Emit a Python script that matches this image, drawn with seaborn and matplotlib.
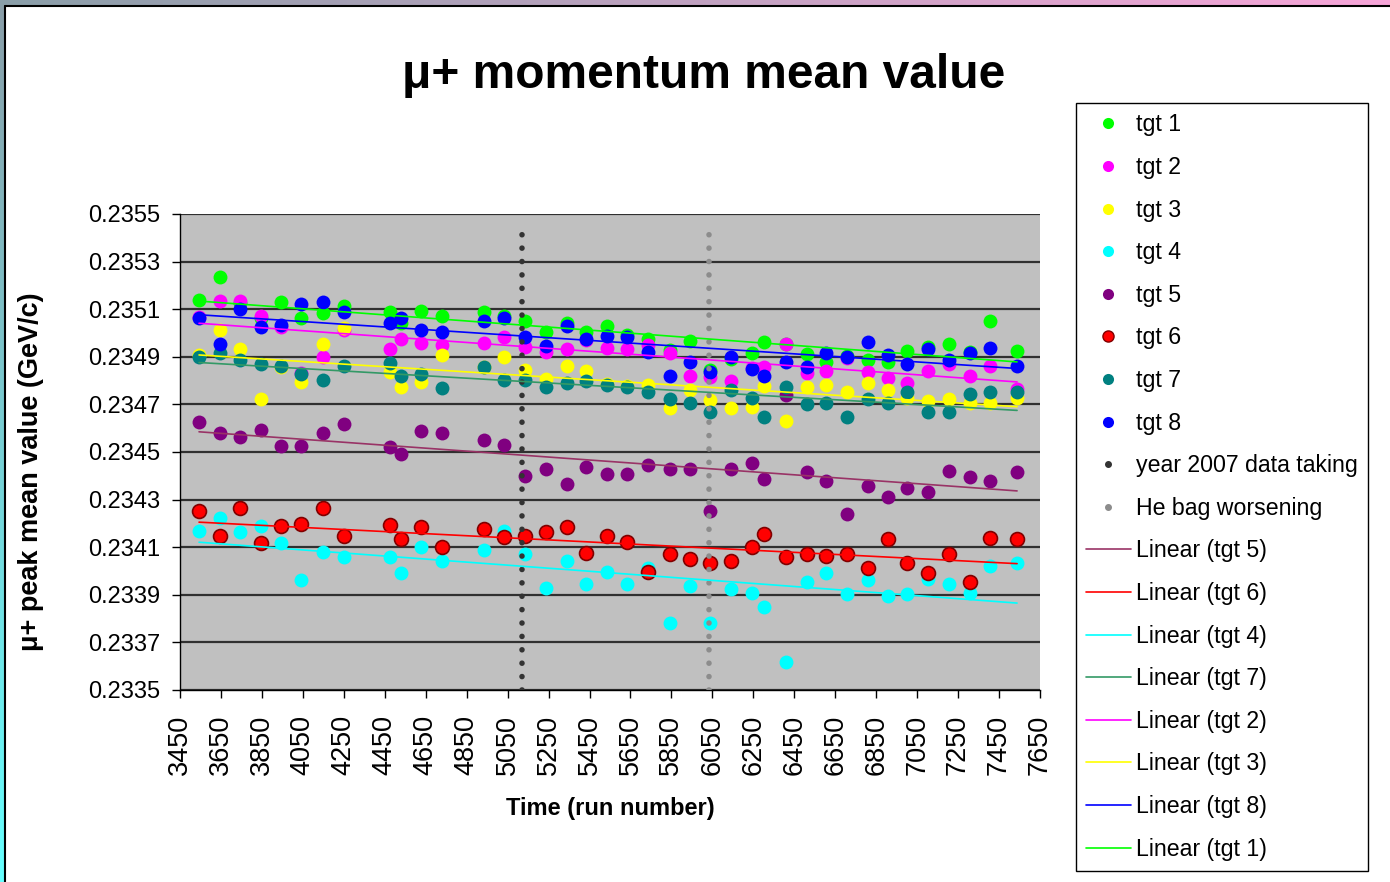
import numpy as np
import pandas as pd
import matplotlib
matplotlib.use('Agg')
import matplotlib.pyplot as plt
from matplotlib.lines import Line2D
import seaborn as sns

# ---- data (run number vs mu+ peak mean momentum, GeV/c) ----
runs = [3543, 3645, 3743, 3846, 3943, 4041, 4148, 4250, 4476, 4529, 4627, 4730, 4935,
        5032, 5135, 5238, 5340, 5433, 5535, 5633, 5736, 5843, 5941, 6039, 6141, 6244,
        6302, 6410, 6512, 6605, 6708, 6810, 6908, 7001, 7103, 7206, 7308, 7406, 7538]

tgt1 = [0.235139, 0.235237, 0.235126, 0.235063, 0.235132, 0.235064, 0.235085, 0.235113, 0.235090, 0.235043,
        0.235094, 0.235071, 0.235087, 0.235073, 0.235052, 0.235005, 0.235043, 0.235005, 0.235029, 0.234992,
        0.234974, 0.234929, 0.234968, 0.234845, 0.234891, 0.234915, 0.234961, 0.234954, 0.234911, 0.234879,
        0.234903, 0.234887, 0.234879, 0.234924, 0.234942, 0.234953, 0.234920, 0.235050, 0.234924]
tgt2 = [0.235067, 0.235134, 0.235136, 0.235073, 0.235026, 0.234833, 0.234900, 0.235013, 0.234932, 0.234975,
        0.234959, 0.234950, 0.234959, 0.234982, 0.234942, 0.234921, 0.234932, 0.234971, 0.234936, 0.234932,
        0.234950, 0.234915, 0.234819, 0.234816, 0.234798, 0.234853, 0.234858, 0.234954, 0.234831, 0.234842,
        0.234895, 0.234835, 0.234812, 0.234791, 0.234842, 0.234868, 0.234819, 0.234863, 0.234763]
tgt3 = [0.234908, 0.235013, 0.234933, 0.234721, 0.234857, 0.234793, 0.234953, 0.235020, 0.234837, 0.234774,
        0.234795, 0.234908, 0.234858, 0.234900, 0.234845, 0.234807, 0.234863, 0.234842, 0.234786, 0.234777,
        0.234782, 0.234684, 0.234761, 0.234719, 0.234684, 0.234690, 0.234779, 0.234632, 0.234774, 0.234782,
        0.234751, 0.234789, 0.234761, 0.234726, 0.234716, 0.234721, 0.234705, 0.234705, 0.234728]
tgt4 = [0.234169, 0.234224, 0.234163, 0.234190, 0.234116, 0.233962, 0.234079, 0.234058, 0.234058, 0.233990,
        0.234102, 0.234042, 0.234088, 0.234169, 0.234071, 0.233930, 0.234043, 0.233945, 0.233997, 0.233945,
        0.234014, 0.233783, 0.233938, 0.233783, 0.233924, 0.233909, 0.233850, 0.233619, 0.233952, 0.233990,
        0.233902, 0.233962, 0.233895, 0.233902, 0.233965, 0.233945, 0.233906, 0.234021, 0.234035]
tgt5 = [0.234625, 0.234580, 0.234564, 0.234594, 0.234527, 0.234527, 0.234581, 0.234618, 0.234522, 0.234490,
        0.234588, 0.234579, 0.234550, 0.234529, 0.234399, 0.234430, 0.234364, 0.234438, 0.234408, 0.234408,
        0.234445, 0.234430, 0.234430, 0.234252, 0.234430, 0.234453, 0.234385, 0.234740, 0.234415, 0.234378,
        0.234238, 0.234357, 0.234312, 0.234348, 0.234333, 0.234421, 0.234394, 0.234378, 0.234415]
tgt6 = [0.234252, 0.234147, 0.234266, 0.234116, 0.234190, 0.234197, 0.234266, 0.234147, 0.234193, 0.234133,
        0.234186, 0.234102, 0.234176, 0.234144, 0.234147, 0.234163, 0.234186, 0.234074, 0.234147, 0.234123,
        0.233997, 0.234071, 0.234050, 0.234035, 0.234043, 0.234102, 0.234154, 0.234058, 0.234071, 0.234064,
        0.234071, 0.234014, 0.234133, 0.234035, 0.233990, 0.234071, 0.233952, 0.234140, 0.234133]
tgt7 = [0.234900, 0.234915, 0.234887, 0.234870, 0.234863, 0.234826, 0.234802, 0.234863, 0.234873, 0.234819,
        0.234826, 0.234768, 0.234856, 0.234802, 0.234802, 0.234774, 0.234789, 0.234798, 0.234782, 0.234774,
        0.234751, 0.234721, 0.234707, 0.234667, 0.234761, 0.234728, 0.234648, 0.234774, 0.234700, 0.234707,
        0.234648, 0.234723, 0.234707, 0.234751, 0.234669, 0.234669, 0.234744, 0.234751, 0.234751]
tgt8 = [0.235064, 0.234953, 0.235101, 0.235026, 0.235034, 0.235121, 0.235132, 0.235087, 0.235041, 0.235064,
        0.235013, 0.235005, 0.235052, 0.235063, 0.234982, 0.234945, 0.235029, 0.234975, 0.234989, 0.234982,
        0.234921, 0.234819, 0.234877, 0.234837, 0.234900, 0.234849, 0.234819, 0.234877, 0.234856, 0.234917,
        0.234900, 0.234961, 0.234908, 0.234870, 0.234932, 0.234887, 0.234915, 0.234938, 0.234863]

run_2007 = 5122      # year 2007 data taking
run_hebag = 6032     # He bag worsening
marker_span = [0.23350, 0.23546]

target_names = ['tgt 1', 'tgt 2', 'tgt 3', 'tgt 4', 'tgt 5', 'tgt 6', 'tgt 7', 'tgt 8']
target_values = [tgt1, tgt2, tgt3, tgt4, tgt5, tgt6, tgt7, tgt8]
point_colors = ['#00ff00', '#ff00ff', '#ffff00', '#00ffff', '#800080', '#ff0000', '#008080', '#0000ff']
trend_colors = ['#00ff00', '#ff00ff', '#ffff00', '#00ffff', '#993366', '#ff0000', '#339966', '#0000ff']
trend_order = [4, 5, 3, 6, 1, 2, 7, 0]   # Linear (tgt 5), (tgt 6), (tgt 4), ...

df = pd.concat([pd.DataFrame({'run': runs, 'p': v, 'target': n})
                for n, v in zip(target_names, target_values)], ignore_index=True)

# ---- style ----
sns.set_theme(style='white')
plt.rcParams['font.family'] = ['Liberation Sans', 'DejaVu Sans']
plt.rcParams['text.color'] = 'black'
plt.rcParams['xtick.color'] = 'black'
plt.rcParams['ytick.color'] = 'black'
plt.rcParams['axes.labelcolor'] = 'black'

fig = plt.figure(figsize=(13.9, 8.82), dpi=100)
fig.patch.set_facecolor('white')

# slide frame: thin gradient strips + black border
top_band = fig.add_axes([0, 1 - 5 / 882, 1, 5 / 882])
grad = np.linspace(0, 1, 256)
c0 = np.array([0.54, 0.62, 0.66]); c1 = np.array([0.97, 0.65, 0.85])
top_band.imshow((c0[None, :] * (1 - grad[:, None]) + c1[None, :] * grad[:, None])[None, :, :], aspect='auto')
top_band.axis('off')
left_band = fig.add_axes([0, 0, 4 / 1390, 1 - 5 / 882])
c2 = np.array([0.40, 1.0, 1.0])
left_band.imshow((c0[None, :] * (1 - grad[:, None]) + c2[None, :] * grad[:, None])[:, None, :], aspect='auto')
left_band.axis('off')
fig.add_artist(Line2D([4.5 / 1390, 4.5 / 1390], [0, 1 - 5.5 / 882], color='black', lw=1.5, transform=fig.transFigure))
fig.add_artist(Line2D([4.5 / 1390, 1], [1 - 5.5 / 882, 1 - 5.5 / 882], color='black', lw=1.5, transform=fig.transFigure))

ax = fig.add_axes([180 / 1390, 1 - 690 / 882, 860 / 1390, 476 / 882])
ax.set_facecolor('#c0c0c0')

# points
for name, col in zip(target_names, point_colors):
    sub = df[df['target'] == name]
    if name == 'tgt 6':
        sns.scatterplot(data=sub, x='run', y='p', color=col, s=100, edgecolor='#800000',
                        linewidth=1.2, ax=ax, zorder=3, legend=False)
    else:
        sns.scatterplot(data=sub, x='run', y='p', color=col, s=100, linewidth=0,
                        ax=ax, zorder=3, legend=False)

# vertical marker series
ax.plot([run_2007, run_2007], marker_span, color='#333333', lw=4.0,
        linestyle=(0, (0.01, 2.4)), dash_capstyle='round', zorder=3.5)
ax.plot([run_hebag, run_hebag], marker_span, color='#8c8c8c', lw=4.0,
        linestyle=(0, (0.01, 2.4)), dash_capstyle='round', zorder=3.5)

# linear trends
for i in trend_order:
    sub = df[df['target'] == target_names[i]]
    sns.regplot(data=sub, x='run', y='p', scatter=False, ci=None, truncate=True,
                color=trend_colors[i], line_kws={'lw': 1.2, 'zorder': 4}, ax=ax)

ax.set_xlim(3450, 7650)
ax.set_ylim(0.2335, 0.2355)
ax.set_xticks(np.arange(3450, 7651, 200))
ax.set_yticks(np.arange(0.2335, 0.23551, 0.0002))
ax.set_yticklabels([f'{t:.4f}' for t in ax.get_yticks()])
ax.tick_params(axis='x', labelsize=19.5, rotation=90, bottom=True, length=6, width=1, color='black', pad=12)
ax.tick_params(axis='y', labelsize=17, left=True, length=6, width=1, color='black', pad=8)
ax.yaxis.grid(True, color='#303030', lw=1.6)
ax.xaxis.grid(False)
ax.set_axisbelow(True)
for s in ['top', 'right']:
    ax.spines[s].set_visible(False)
for s in ['left', 'bottom']:
    ax.spines[s].set_color('black')
    ax.spines[s].set_linewidth(1.0)
ax.set_xlabel('')
ax.set_ylabel('')

fig.text(704 / 1390, 1 - 75 / 882, 'μ+ momentum mean value', fontsize=34.5, weight='bold',
         ha='center', va='center')
fig.text(31 / 1390, 1 - 472 / 882, 'μ+ peak mean value (GeV/c)', fontsize=19.5, weight='bold',
         rotation=90, ha='center', va='center')
fig.text(610 / 1390, 1 - 808 / 882, 'Time (run number)', fontsize=17, weight='bold',
         ha='center', va='center')

# legend
handles, labels = [], []
for name, col in zip(target_names, point_colors):
    edge = '#800000' if name == 'tgt 6' else col
    handles.append(Line2D([], [], ls='none', marker='o', markersize=8, markerfacecolor=col,
                          markeredgecolor=edge, markeredgewidth=1.0 if name == 'tgt 6' else 0))
    labels.append(name)
handles.append(Line2D([], [], ls='none', marker='o', markersize=4, color='#333333'))
labels.append('year 2007 data taking')
handles.append(Line2D([], [], ls='none', marker='o', markersize=4, color='#8c8c8c'))
labels.append('He bag worsening')
for i in trend_order:
    handles.append(Line2D([], [], color=trend_colors[i], lw=1.2))
    labels.append(f'Linear ({target_names[i]})')

leg = fig.legend(handles, labels, loc='upper left', bbox_to_anchor=(1076 / 1390, 1 - 103 / 882),
                 frameon=True, fancybox=False, edgecolor='black', facecolor='white', framealpha=1,
                 fontsize=16.7, labelspacing=0.845, handlelength=1.9, handletextpad=0.25,
                 borderpad=0.45, borderaxespad=0)
leg.get_frame().set_linewidth(1.0)

fig.savefig('out.png', dpi=100)
